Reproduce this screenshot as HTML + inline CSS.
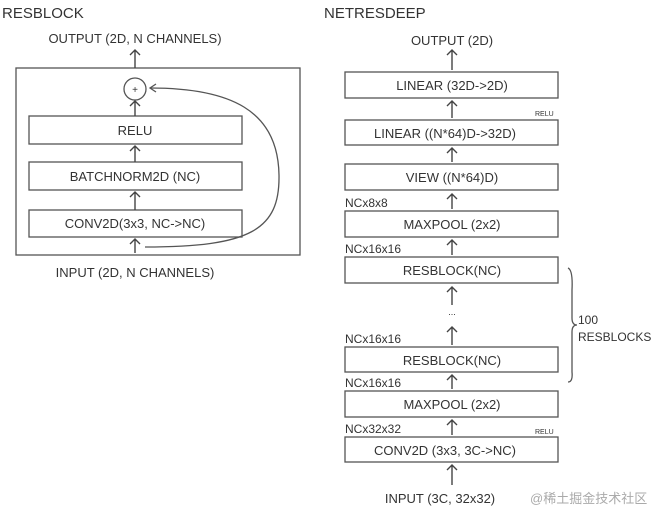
<!DOCTYPE html>
<html><head><meta charset="utf-8"><style>
html,body{margin:0;padding:0;background:#fff;}
svg{display:block}
text{font-family:"Liberation Sans","Noto Sans CJK SC",sans-serif;fill:#333;}
</style></head><body>
<svg width="657" height="508" viewBox="0 0 657 508" xmlns="http://www.w3.org/2000/svg">
<defs>
<marker id="a" viewBox="0 0 10 10" refX="5" refY="1" markerWidth="10" markerHeight="10" orient="auto-start-reverse" markerUnits="userSpaceOnUse">
</marker>
</defs>
<g stroke="#555" fill="none" stroke-width="1.3">
<!-- left -->
<rect x="16" y="68" width="284" height="187"/>
<circle cx="135" cy="89" r="11"/>
<rect x="29" y="116" width="213" height="28"/>
<rect x="29" y="162" width="213" height="28"/>
<rect x="29" y="210" width="213" height="27"/>
<path d="M145 247 C 250 247, 280 230, 279 175 C 278 110, 230 88, 150 88"/>
<path d="M156 84 L150 88 L156 92"/>
<!-- right boxes -->
<rect x="345" y="72" width="213" height="26"/>
<rect x="345" y="120" width="213" height="25"/>
<rect x="345" y="164" width="213" height="26"/>
<rect x="345" y="211" width="213" height="26"/>
<rect x="345" y="257" width="213" height="26"/>
<rect x="345" y="347" width="213" height="25"/>
<rect x="345" y="391" width="213" height="26"/>
<rect x="345" y="437" width="213" height="25"/>
<path d="M568 268 Q573 270 572 290 L572 318 Q572 325 577 325 Q572 325 572 332 L572 372 Q573 382 568 382"/>
</g>
<g stroke="#444" fill="none" stroke-width="1.4">
<!-- left arrows -->
<path d="M135 68 V50 M130 55 L135 50 L140 55"/>
<path d="M135 116 V101 M130 106 L135 101 L140 106"/>
<path d="M135 162 V146 M130 151 L135 146 L140 151"/>
<path d="M135 210 V192 M130 197 L135 192 L140 197"/>
<path d="M135 253 V239 M130 244 L135 239 L140 244"/>
<!-- right arrows -->
<path d="M452 70 V50 M447 55 L452 50 L457 55"/>
<path d="M452 118 V101 M447 106 L452 101 L457 106"/>
<path d="M452 162 V148 M447 153 L452 148 L457 153"/>
<path d="M452 209 V194 M447 199 L452 194 L457 199"/>
<path d="M452 255 V240 M447 245 L452 240 L457 245"/>
<path d="M452 305 V287 M447 292 L452 287 L457 292"/>
<path d="M452 345 V327 M447 332 L452 327 L457 332"/>
<path d="M452 389 V375 M447 380 L452 375 L457 380"/>
<path d="M452 435 V420 M447 425 L452 420 L457 425"/>
<path d="M452 485 V465 M447 470 L452 465 L457 470"/>
</g>
<g font-size="13" text-anchor="middle">
<text x="135" y="93" font-size="10">+</text>
<text x="135" y="43">OUTPUT (2D, N CHANNELS)</text>
<text x="135" y="135">RELU</text>
<text x="135" y="181">BATCHNORM2D (NC)</text>
<text x="135" y="228">CONV2D(3x3, NC-&gt;NC)</text>
<text x="135" y="277">INPUT (2D, N CHANNELS)</text>
<text x="452" y="45">OUTPUT (2D)</text>
<text x="452" y="90">LINEAR (32D-&gt;2D)</text>
<text x="445" y="138">LINEAR ((N*64)D-&gt;32D)</text>
<text x="452" y="182">VIEW ((N*64)D)</text>
<text x="452" y="229">MAXPOOL (2x2)</text>
<text x="452" y="275">RESBLOCK(NC)</text>
<text x="452" y="315" font-size="9">...</text>
<text x="452" y="365">RESBLOCK(NC)</text>
<text x="452" y="409">MAXPOOL (2x2)</text>
<text x="445" y="455">CONV2D (3x3, 3C-&gt;NC)</text>
<text x="440" y="503">INPUT (3C, 32x32)</text>
</g>
<g font-size="12">
<text x="2" y="18" font-size="15">RESBLOCK</text>
<text x="324" y="18" font-size="15">NETRESDEEP</text>
<text x="345" y="207">NCx8x8</text>
<text x="345" y="253">NCx16x16</text>
<text x="345" y="343">NCx16x16</text>
<text x="345" y="387">NCx16x16</text>
<text x="345" y="433">NCx32x32</text>
<text x="578" y="324">100</text>
<text x="578" y="341">RESBLOCKS</text>
<text x="535" y="116" font-size="7">RELU</text>
<text x="535" y="434" font-size="7">RELU</text>
<text x="530" y="503" font-size="13" style="fill:#aaa">@稀土掘金技术社区</text>
</g>
</svg>
</body></html>
